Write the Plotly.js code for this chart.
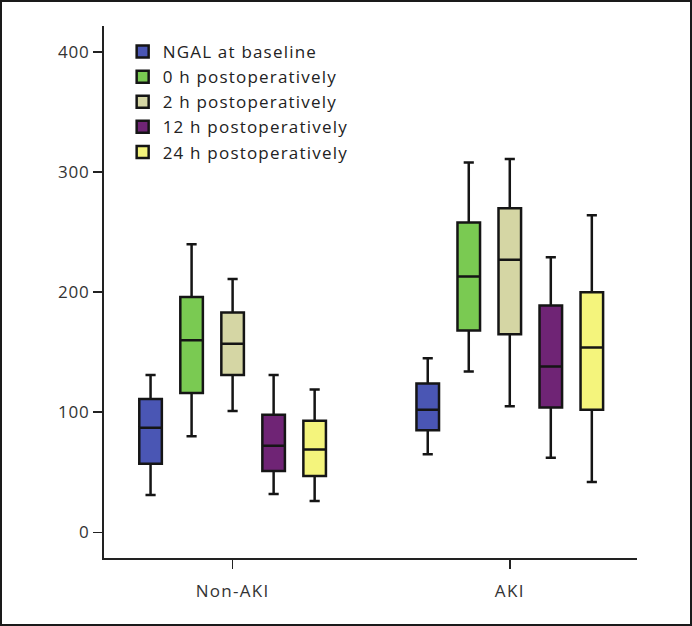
<!DOCTYPE html>
<html>
<head>
<meta charset="utf-8">
<script src="https://cdn.plot.ly/plotly-3.0.1.min.js"></script>
<style>
html,body{margin:0;padding:0;background:#fff;}
#wrap{position:relative;width:692px;height:626px;}
#chart{width:692px;height:626px;}
#frame{position:absolute;left:0;top:0;width:692px;height:626px;box-sizing:border-box;border:2px solid #1a1a1a;pointer-events:none;}
.legendtext{letter-spacing:1.2px;}
#chart .xtick text{letter-spacing:1.3px;}
#chart .ytick text{letter-spacing:0.8px;}
</style>
</head>
<body>
<div id="wrap"><div id="chart"></div><div id="frame"></div></div>
<script>
// Data
const categories = ['Non-AKI', 'AKI'];
const seriesNames = ['NGAL at baseline', '0 h postoperatively', '2 h postoperatively', '12 h postoperatively', '24 h postoperatively'];
const seriesColors = ['#4a56b4', '#7aca52', '#d5d6a4', '#6f2475', '#f4f47c'];

const baselineLow = [31, 65];
const baselineQ1 = [57, 85];
const baselineMed = [87, 102];
const baselineQ3 = [111, 124];
const baselineHigh = [131, 145];

const h0Low = [80, 134];
const h0Q1 = [116, 168];
const h0Med = [160, 213];
const h0Q3 = [196, 258];
const h0High = [240, 308];

const h2Low = [101, 105];
const h2Q1 = [131, 165];
const h2Med = [157, 227];
const h2Q3 = [183, 270];
const h2High = [211, 311];

const h12Low = [32, 62];
const h12Q1 = [51, 104];
const h12Med = [72, 138];
const h12Q3 = [98, 189];
const h12High = [131, 229];

const h24Low = [26, 42];
const h24Q1 = [47, 102];
const h24Med = [69, 154];
const h24Q3 = [93, 200];
const h24High = [119, 264];

const stats = [
  [baselineLow, baselineQ1, baselineMed, baselineQ3, baselineHigh],
  [h0Low, h0Q1, h0Med, h0Q3, h0High],
  [h2Low, h2Q1, h2Med, h2Q3, h2High],
  [h12Low, h12Q1, h12Med, h12Q3, h12High],
  [h24Low, h24Q1, h24Med, h24Q3, h24High]
];

const traces = seriesNames.map((name, i) => ({
  type: 'box',
  name: name,
  x: categories,
  lowerfence: stats[i][0],
  q1: stats[i][1],
  median: stats[i][2],
  q3: stats[i][3],
  upperfence: stats[i][4],
  fillcolor: seriesColors[i],
  line: {color: '#151515', width: 2.5},
  whiskerwidth: 0.45,
  boxpoints: false,
  hoverinfo: 'skip'
}));

const fontFam = '"Open Sans", "Noto Sans", sans-serif';
const layout = {
  width: 692,
  height: 626,
  margin: {l: 104, r: 55, t: 26, b: 68},
  paper_bgcolor: '#fff',
  plot_bgcolor: '#fff',
  boxmode: 'group',
  boxgap: 0.26,
  boxgroupgap: 0.45,
  showlegend: true,
  legend: {
    x: 0.035, y: 0.985, xanchor: 'left', yanchor: 'top',
    bgcolor: 'rgba(0,0,0,0)',
    font: {family: fontFam, size: 17, color: '#222'},
    tracegroupgap: 0,
    itemclick: false
  },
  xaxis: {
    type: 'category',
    range: [-0.464, 1.459],
    showline: true, linecolor: '#222', linewidth: 2,
    ticks: 'outside', ticklen: 9, tickwidth: 1.5, tickcolor: '#222',
    ticklabelstandoff: 8,
    showgrid: false, zeroline: false,
    tickfont: {family: fontFam, size: 17, color: '#333'}
  },
  yaxis: {
    range: [-21.4, 421.7],
    tickvals: [0, 100, 200, 300, 400],
    showline: true, linecolor: '#222', linewidth: 2,
    ticks: 'outside', ticklen: 9, tickwidth: 1.5, tickcolor: '#222',
    showgrid: false, zeroline: false,
    tickfont: {family: fontFam, size: 17, color: '#333'}
  }
};

Plotly.newPlot('chart', traces, layout, {displayModeBar: false, staticPlot: true});
</script>
</body>
</html>
